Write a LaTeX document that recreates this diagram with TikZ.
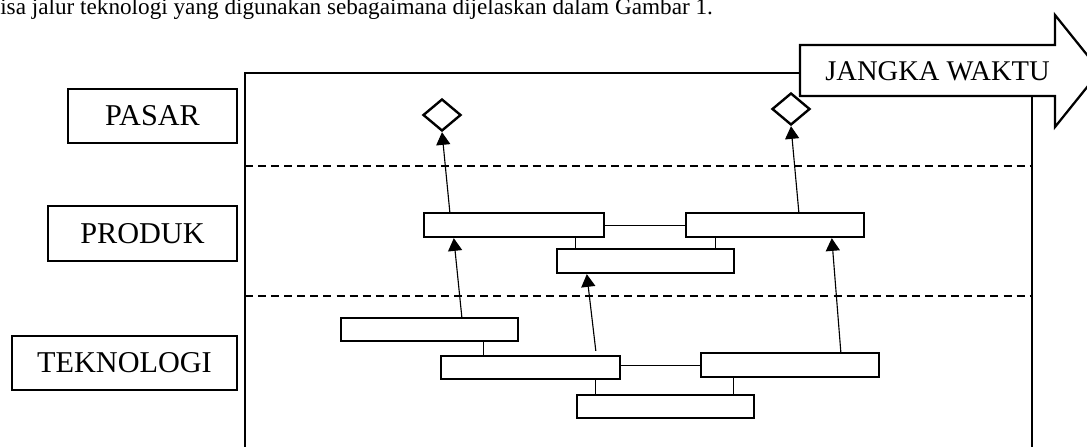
\documentclass[tikz,border=0pt]{standalone}
\usepackage{fontspec}
\setmainfont{Liberation Serif}
\usetikzlibrary{arrows.meta,shapes.geometric,calc,fit}

\begin{document}
\begin{tikzpicture}[x=0.025cm,y=-0.025cm,
  labelbox/.style={draw,line width=1.5pt,inner sep=0pt,minimum height=1.36cm,font=\fontsize{21.5}{25}\selectfont},
  bar/.style={draw,line width=1.7pt,inner sep=0pt},
  goal/.style={draw,diamond,line width=1.7pt,inner sep=0pt,minimum width=0.95cm,minimum height=0.8cm},
  link/.style={line width=0.7pt},
  arr/.style={line width=0.8pt,-{Triangle[length=9pt,width=10pt]}},
  lane/.style={line width=0.9pt,dash pattern=on 5.7pt off 3.6pt},
  frame/.style={line width=1.6pt}]

  % Fix the page size
  \useasboundingbox (0,0) rectangle (1087,447);
  \clip (0,0) rectangle (1087,447);

  % Line of text cut off above the figure
  \node[anchor=base west,inner sep=0pt,font=\fontsize{16.5}{19}\selectfont] (intro) at (0,14)
    {isa jalur teknologi yang digunakan sebagaimana dijelaskan dalam Gambar 1.};

  % Row labels on the left
  \node[labelbox,minimum width=4.225cm] (pasar) at (152.5,116) {PASAR};
  \node[labelbox,minimum width=4.725cm] (produk) at (142.5,233.5) {PRODUK};
  \node[labelbox,minimum width=5.625cm] (teknologi) at (124.5,363) {TEKNOLOGI};

  % Frame and the time arrow
  \draw[frame] (245,447) -- (245,73) -- (800,73);
  \draw[frame] (1032,96) -- (1032,447);
  \draw[frame,fill=white] (800,45) -- (1055,45) -- (1055,15) -- (1100,71)
    -- (1055,127) -- (1055,96) -- (800,96) -- cycle;
  \node[font=\fontsize{20.3}{23}\selectfont] (waktu) at (937.5,71) {JANGKA WAKTU};

  % Dashed lines between the rows
  \draw[lane] (245,166) -- (1032,166);
  \draw[lane] (245,296) -- (1032,296);

  % Market goals
  \node[goal] (d1) at (442,115) {};
  \node[goal] (d2) at (791,109) {};

  % Product bars
  \node[bar,fit={(424,213) (604,237)}] (pA) {};
  \node[bar,fit={(686,213) (864,237)}] (pB) {};
  \node[bar,fit={(557,249) (734,273)}] (pC) {};

  % Technology bars
  \node[bar,fit={(341,318) (518,341)}] (t1) {};
  \node[bar,fit={(441,356) (620,379)}] (t2) {};
  \node[bar,fit={(701,353) (879,377)}] (t3) {};
  \node[bar,fit={(577,395) (754,418)}] (t4) {};

  % Links inside the product row
  \draw[link] (pA.east) -- (pB.west);
  \draw[link] ($(pA.south west)+(153,0)$) coordinate (a1) -- (a1 |- pC.north);
  \draw[link] ($(pB.south west)+(31,0)$) coordinate (a2) -- (a2 |- pC.north);

  % Links inside the technology row
  \draw[link] ($(t1.south west)+(144,0)$) coordinate (b1) -- (b1 |- t2.north);
  \draw[link] (t3.west) -- (t3.west -| t2.east);
  \draw[link] ($(t2.south west)+(156,0)$) coordinate (b2) -- (b2 |- t4.north);
  \draw[link] ($(t3.south west)+(34,0)$) coordinate (b3) -- (b3 |- t4.north);

  % Arrows from technology to product
  \draw[arr] ($(t1.north west)+(122,0)$) -- ($(pA.south west)+(31,0)$);
  \draw[arr] ($(t2.north west)+(156,-4)$) -- ($(pC.south west)+(31,0)$);
  \draw[arr] ($(t3.north west)+(141,0)$) -- ($(pB.south west)+(147,0)$);

  % Arrows from product to market
  \draw[arr] ($(pA.north west)+(27,0)$) -- (d1.south);
  \draw[arr] ($(pB.north west)+(114,0)$) -- (d2.south);

\end{tikzpicture}
\end{document}
